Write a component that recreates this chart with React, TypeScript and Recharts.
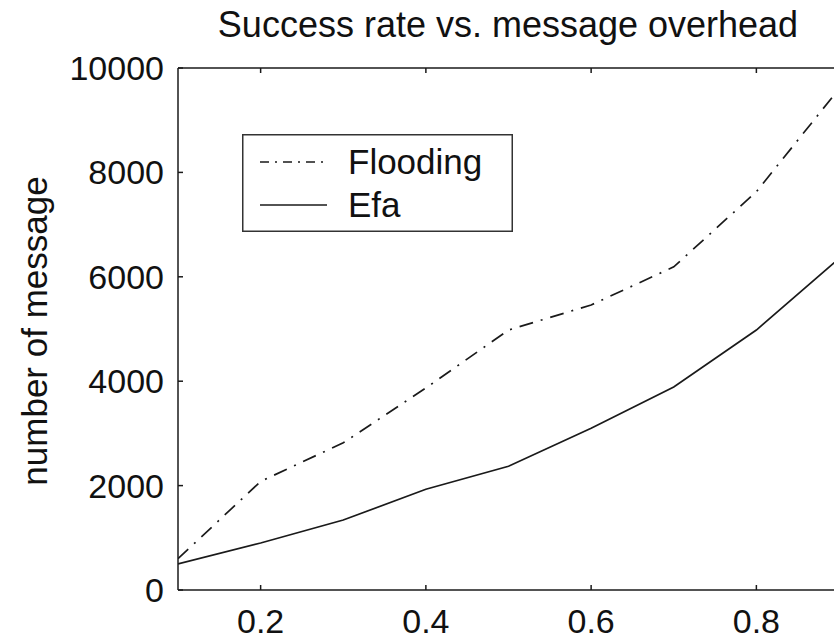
import React from 'react';
import { LineChart, Line, XAxis, YAxis, Legend } from 'recharts';

const xValues = [0.1, 0.2, 0.3, 0.4, 0.5, 0.6, 0.7, 0.8, 0.9];
const floodingValues = [600, 2080, 2820, 3870, 4980, 5460, 6190, 7630, 9600];
const efaValues = [500, 900, 1340, 1930, 2370, 3100, 3890, 4980, 6350];
const xTicks = [0.2, 0.4, 0.6, 0.8];
const yTicks = [0, 2000, 4000, 6000, 8000, 10000];

const data = xValues.map((x, i) => ({ x, flooding: floodingValues[i], efa: efaValues[i] }));

const FONT = '"Liberation Sans", Arial, Helvetica, sans-serif';
const INK = '#1a1a1a';
const PLOT_LEFT = 178;
const PLOT_RIGHT = 839;
const PLOT_TOP = 68;
const PLOT_BOTTOM = 590;
const TICK_LEN = 5;
const FLOOD_DASH = '14 8 2 8';

const BottomTick = (props: any) => {
  const { x, payload } = props;
  return (
    <g>
      <line x1={x} x2={x} y1={PLOT_BOTTOM} y2={PLOT_BOTTOM - TICK_LEN} stroke={INK} strokeWidth={1.5} />
      <text x={x} y={633} textAnchor="middle" fontSize={34} fontFamily={FONT} fill="#111">
        {String(payload.value)}
      </text>
    </g>
  );
};

const TopTick = (props: any) => {
  const { x } = props;
  return <line x1={x} x2={x} y1={PLOT_TOP} y2={PLOT_TOP + TICK_LEN} stroke={INK} strokeWidth={1.5} />;
};

const LeftTick = (props: any) => {
  const { y, payload } = props;
  return (
    <g>
      <line x1={PLOT_LEFT} x2={PLOT_LEFT + TICK_LEN} y1={y} y2={y} stroke={INK} strokeWidth={1.5} />
      <text x={164} y={y + 12} textAnchor="end" fontSize={34} fontFamily={FONT} fill="#111">
        {String(payload.value)}
      </text>
    </g>
  );
};

const RightTick = (props: any) => {
  const { y } = props;
  return <line x1={PLOT_RIGHT} x2={PLOT_RIGHT - TICK_LEN} y1={y} y2={y} stroke={INK} strokeWidth={1.5} />;
};

const YLabel = () => (
  <text
    x={47}
    y={331}
    transform="rotate(-90, 47, 331)"
    textAnchor="middle"
    fontSize={35}
    fontFamily={FONT}
    fill="#111"
  >
    number of message
  </text>
);

const LegendBox = (props: any) => {
  const payload = props.payload || [];
  const rows = [
    { key: 'flooding', lineY: 28, textY: 40 },
    { key: 'efa', lineY: 71, textY: 83 },
  ];
  return (
    <svg width={271} height={98} style={{ display: 'block' }}>
      <rect x={0.75} y={0.75} width={269.5} height={96.5} fill="#fff" stroke="#333" strokeWidth={1.5} />
      {rows.map((r) => {
        const entry = payload.find((p: any) => p.dataKey === r.key);
        if (!entry) return null;
        return (
          <g key={r.key}>
            <line
              x1={18}
              x2={85}
              y1={r.lineY}
              y2={r.lineY}
              stroke={INK}
              strokeWidth={1.5}
              strokeDasharray={r.key === 'flooding' ? '9 6 2 6' : undefined}
            />
            <text x={106} y={r.textY} fontSize={35} fontFamily={FONT} fill="#111">
              {entry.value}
            </text>
          </g>
        );
      })}
    </svg>
  );
};

export default function App() {
  return (
    <div style={{ position: 'fixed', left: 0, top: 0, width: 834, height: 639, overflow: 'hidden', background: '#fff' }}>
      <div style={{ position: 'absolute', left: 0, top: 0, width: 850, height: 639 }}>
        <LineChart
          width={850}
          height={639}
          data={data}
          margin={{ top: 67, right: 10, bottom: 9, left: 68 }}
        >
          <text x={508} y={37} textAnchor="middle" fontSize={36} fontFamily={FONT} fill="#111">
            Success rate vs. message overhead
          </text>
          <XAxis
            xAxisId="b"
            type="number"
            dataKey="x"
            domain={[0.1, 0.9]}
            ticks={xTicks}
            allowDataOverflow
            height={40}
            axisLine={{ stroke: INK, strokeWidth: 1.5 }}
            tickLine={false}
            tick={<BottomTick />}
            interval={0}
          />
          <XAxis
            xAxisId="t"
            orientation="top"
            type="number"
            dataKey="x"
            domain={[0.1, 0.9]}
            ticks={xTicks}
            allowDataOverflow
            height={1}
            axisLine={{ stroke: INK, strokeWidth: 1.5 }}
            tickLine={false}
            tick={<TopTick />}
            interval={0}
          />
          <YAxis
            yAxisId="l"
            type="number"
            domain={[0, 10000]}
            ticks={yTicks}
            allowDataOverflow
            width={110}
            axisLine={{ stroke: INK, strokeWidth: 1.5 }}
            tickLine={false}
            tick={<LeftTick />}
            interval={0}
            label={<YLabel />}
          />
          <YAxis
            yAxisId="r"
            orientation="right"
            type="number"
            domain={[0, 10000]}
            ticks={yTicks}
            allowDataOverflow
            width={1}
            axisLine={{ stroke: INK, strokeWidth: 1.5 }}
            tickLine={false}
            tick={<RightTick />}
            interval={0}
          />
          <Line
            xAxisId="b"
            yAxisId="l"
            type="linear"
            dataKey="flooding"
            name="Flooding"
            stroke={INK}
            strokeWidth={1.7}
            strokeDasharray={FLOOD_DASH}
            dot={false}
            isAnimationActive={false}
          />
          <Line
            xAxisId="b"
            yAxisId="l"
            type="linear"
            dataKey="efa"
            name="Efa"
            stroke={INK}
            strokeWidth={1.7}
            dot={false}
            isAnimationActive={false}
          />
          <Legend
            layout="horizontal"
            verticalAlign="middle"
            align="center"
            content={<LegendBox />}
            wrapperStyle={{ position: 'absolute', left: 242, top: 134, width: 271, height: 98 }}
          />
        </LineChart>
      </div>
    </div>
  );
}
